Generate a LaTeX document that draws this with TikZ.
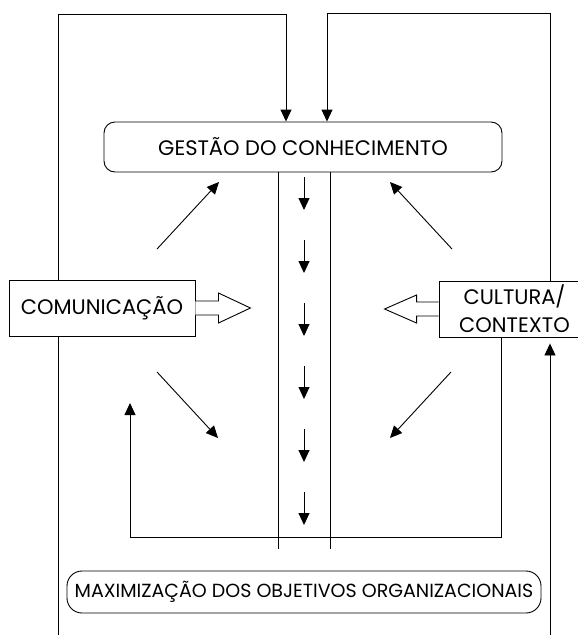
\documentclass[tikz,border=0pt]{standalone}
\usepackage{fontspec}
\setmainfont{Poppins}
\usepackage{tikz}
\usetikzlibrary{arrows.meta,calc,positioning}

\tikzset{
  rbox/.style={draw,line width=0.9pt,rounded corners=11pt,fill=white,inner sep=0pt},
  sbox/.style={draw,line width=0.9pt,fill=white,inner sep=0pt,align=center},
  flow/.style={-{Triangle[length=12pt,width=11pt]},line width=0.9pt},
  link/.style={line width=0.9pt}
}

\begin{document}
\begin{tikzpicture}[x=1pt,y=-1pt,font=\fontsize{21}{28}\selectfont]
  \clip (0,0) rectangle (578,635);

  % Boxes
  \node[rbox,minimum width=398pt,minimum height=50pt] (gestao) at (303,147) {GESTÃO DO CONHECIMENTO};
  \node[rbox,rounded corners=15pt,minimum width=474pt,minimum height=42pt,font=\fontsize{19}{24}\selectfont] (maxim) at (304,592) {MAXIMIZAÇÃO DOS OBJETIVOS ORGANIZACIONAIS};
  \node[sbox,minimum width=186pt,minimum height=56pt] (comun) at (102,308) {COMUNICAÇÃO};
  \node[sbox,minimum width=151pt,minimum height=56pt] (cultura) at (514.5,309) {CULTURA/\\CONTEXTO};

  % Feedback loops from the top
  \coordinate (tl) at (286,14);
  \coordinate (tr) at (327,13);
  \draw[link] (58,635) -- (58,0 |- comun.south);
  \draw[flow] (58,0 |- comun.north) -- (58,14) -- (tl) -- (tl |- gestao.north);
  \draw[link] (550,0 |- cultura.north) -- (550,13) -- (tr);
  \draw[flow] (tr) -- (tr |- gestao.north);
  \draw[flow] (550,635) -- ($(550,0 |- cultura.south)+(0,6)$);
  \draw[flow] (501,0 |- cultura.south) -- (501,537) -- (130,537) -- (130,403);

  % Channel
  \draw[link] (278,0 |- gestao.south) -- (278,549);
  \draw[link] (330,0 |- gestao.south) -- (330,549);
  \foreach \y in {177,240,303,366,429,492} {
    \draw[flow] (304,\y) -- (304,\y+33);
  }

  % Block arrows
  \draw[link,fill=white] ($(comun.east)+(0,-7)$) -- ++(23,0) -- ++(0,-8) -- ++(32,15) -- ++(-32,15) -- ++(0,-8) -- ($(comun.east)+(0,7)$);
  \draw[link,fill=white] ($(cultura.west)+(0,-7)$) -- ++(-22,0) -- ++(0,-7) -- ++(-32,14) -- ++(32,14) -- ++(0,-7) -- ($(cultura.west)+(0,7)$);

  % Diagonals
  \draw[flow] (157,249) -- (219,182);
  \draw[flow] (452,249) -- (390,182);
  \draw[flow] (157,372) -- (218,438);
  \draw[flow] (451,372) -- (390,438);
\end{tikzpicture}
\end{document}
